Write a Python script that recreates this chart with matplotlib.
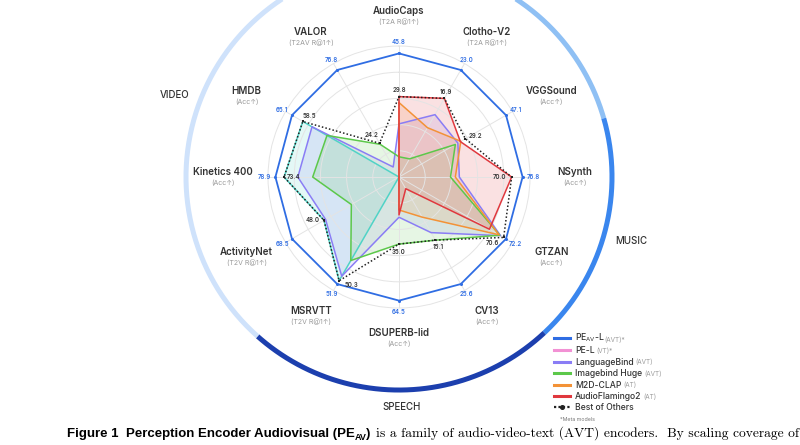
import numpy as np
import matplotlib.pyplot as plt
from matplotlib.lines import Line2D
from matplotlib.transforms import IdentityTransform

plt.rcParams['font.family'] = ['Inter', 'DejaVu Sans']
plt.rcParams['mathtext.fontset'] = 'custom'
plt.rcParams['mathtext.rm'] = 'Inter'

benchmarks = ['AudioCaps', 'Clotho-V2', 'VGGSound', 'NSynth', 'GTZAN', 'CV13',
              'DSUPERB-lid', 'MSRVTT', 'ActivityNet', 'Kinetics 400', 'HMDB', 'VALOR']
metrics = ['(T2A R@1↑)', '(T2A R@1↑)', '(Acc↑)', '(Acc↑)', '(Acc↑)', '(Acc↑)',
           '(Acc↑)', '(T2V R@1↑)', '(T2V R@1↑)', '(Acc↑)', '(Acc↑)', '(T2AV R@1↑)']

pe_av_l = [45.8, 23.0, 47.1, 76.8, 72.2, 25.6, 64.5, 51.9, 68.5, 78.9, 65.1, 76.8]
pe_l = [0, 0, 0, 0, 0, 0, 0, 50.3, 48.0, 73.4, 58.5, 0]
language_bind = [19.7, 13.4, 25.9, 37.5, 68.5, 13.3, 21.0, 48.1, 47.0, 64.6, 52.9, 7.2]
imagebind = [7.5, 3.9, 24.8, 32.0, 68.0, 15.1, 35.0, 40.5, 30.5, 55.1, 43.8, 23.5]
m2d_clap = [27.6, 10.6, 27.2, 35.0, 67.5, 9.6, 17.2, 0, 0, 0, 0, 0]
audio_flamingo2 = [29.8, 16.9, 27.0, 70.0, 61.0, 2.8, 19.8, 0, 0, 0, 0, 0]
best_of_others = [29.8, 16.9, 29.2, 70.0, 70.6, 15.1, 35.0, 50.3, 48.0, 73.4, 58.5, 24.2]

# category ring: name, start deg, end deg (clockwise from top)
groups = ['AUDIO', 'MUSIC', 'SPEECH', 'VIDEO']
group_span = [(-1.6, 74), (74, 137), (137, 221.6), (221.6, 358.4)]
group_colors = ['#8fc0f4', '#3a86ee', '#1c3fae', '#cfe2fb']
group_label_r = [1.8, 1.84, 1.755, 1.82]

# offsets (points) of the "best of others" value labels
best_offsets = [(0, 5), (1, 4.5), (7, 2), (-9, 0), (-8, -4), (2, -5),
                (0, -6), (9, -3), (-8, 0), (7, 0), (5, 4), (-6, 6)]

blue = '#2f6de3'
fig = plt.figure(figsize=(8, 4.45), dpi=100)
ax = fig.add_axes([0.335, 0.3078, 0.3275, 0.5888], projection='polar')
ax.set_theta_zero_location('N')
ax.set_theta_direction(-1)

n = len(benchmarks)
angles = np.arange(n) * 2 * np.pi / n
scale = np.array(pe_av_l) * 1.06


def closed(vals):
    r = np.array(vals) / scale
    return np.append(angles, angles[0]), np.append(r, r[0])


ax.set_ylim(0, 1)
ax.set_xticks(angles)
ax.set_xticklabels([])
ax.set_yticks([0.2, 0.4, 0.6, 0.8])
ax.set_yticklabels([])
ax.grid(color='#e4e4e4', lw=0.7)
ax.spines['polar'].set_color('#e4e4e4')
ax.spines['polar'].set_linewidth(0.7)

series = [(pe_l, '#4fd3c6'), (language_bind, '#8a7df5'), (imagebind, '#5cc84a'),
          (m2d_clap, '#f39237'), (audio_flamingo2, '#e0383e')]
for vals, c in series:
    t, r = closed(vals)
    ax.fill(t, r, color=c, alpha=0.15, lw=0)
for vals, c in series:
    t, r = closed(vals)
    ax.plot(t, r, color=c, lw=1.1)

t, r = closed(best_of_others)
ax.plot(t, r, color='#222222', lw=1.1, ls=(0, (1, 1.4)))
ax.plot(angles, np.array(best_of_others) / scale, ls='none', marker='s',
        ms=2.0, mew=0, color='#222222')
t, r = closed(pe_av_l)
ax.plot(t, r, color=blue, lw=1.3)
ax.plot(angles, np.array(pe_av_l) / scale, ls='none', marker='o', ms=2.2,
        mew=0, color=blue)

# value labels
for a, v, s in zip(angles, pe_av_l, scale):
    ax.annotate(f'{v:.1f}', (a, v / s),
                xytext=(8 * np.sin(a), 8 * np.cos(a)), textcoords='offset points',
                ha='center', va='center', fontsize=4.4, color=blue, weight='semibold')
for a, v, s, off in zip(angles, best_of_others, scale, best_offsets):
    ax.annotate(f'{v:.1f}', (a, v / s), xytext=off, textcoords='offset points',
                ha='center', va='center', fontsize=4.4, color='#333333', weight='semibold')

# benchmark names, laid out on an ellipse around the centre (px -> pt)
for a, name, m in zip(angles, benchmarks, metrics):
    ox, oy = 176 * 0.72 * np.sin(a), 161 * 0.72 * np.cos(a)
    ax.annotate(name, (0, 0), xytext=(ox, oy + 3.9), textcoords='offset points',
                ha='center', va='center', fontsize=7, color='#333333',
                weight='semibold', annotation_clip=False)
    ax.annotate(m, (0, 0), xytext=(ox, oy - 3.9), textcoords='offset points',
                ha='center', va='center', fontsize=5, color='#9a9a9a',
                annotation_clip=False)

# category ring
for g, (a0, a1), c, lr in zip(groups, group_span, group_colors, group_label_r):
    th = np.radians(np.linspace(a0, a1, 200))
    ax.plot(th, np.full_like(th, 1.626), color=c, lw=3.6, clip_on=False,
            solid_capstyle='butt')
    if g != 'AUDIO':
        mid = np.radians((a0 + a1) / 2)
        ax.text(mid, lr, g, ha='center', va='center', fontsize=7,
                color='#333333', weight='medium')

# legend
legend_labels = [r'PE$_{\mathrm{AV}}$-L', 'PE-L', 'LanguageBind', 'Imagebind Huge',
                 'M2D-CLAP', 'AudioFlamingo2', 'Best of Others']
legend_suffix = ['(AVT)*', '(VT)*', '(AVT)', '(AVT)', '(AT)', '(AT)', '']
legend_colors = [blue, '#f291d4', '#8a7df5', '#5cc84a', '#f39237', '#e0383e']
handles = [Line2D([], [], color=c, lw=2.2) for c in legend_colors]
handles.append(Line2D([], [], color='#222222', lw=1.6, ls=(0, (1, 1)),
                      marker='o', ms=2.6))
leg = fig.legend(handles, legend_labels, loc='upper left',
                 bbox_to_anchor=(0.692, 0.255), frameon=False, fontsize=6.2,
                 handlelength=1.9, handletextpad=0.6, labelspacing=0.28,
                 borderaxespad=0, borderpad=0)
for txt in leg.get_texts():
    txt.set_color('#333333')
    txt.set_weight('medium')

fig.canvas.draw()
renderer = fig.canvas.get_renderer()
for i, (txt, suf) in enumerate(zip(leg.get_texts(), legend_suffix)):
    if suf:
        bb = txt.get_window_extent(renderer)
        gap = -1 if i == 0 else 2
        fig.text(bb.x1 + gap, bb.y0 + 1.5, suf, transform=IdentityTransform(),
                 fontsize=4.6, color='#9a9a9a', va='bottom')
bb = leg.get_texts()[-1].get_window_extent(renderer)
fig.text(560, bb.y0 - 10, '*Meta models', transform=IdentityTransform(),
         fontsize=3.8, color='#777777', va='bottom')


# caption
def put(x, y, s, **kw):
    tx = fig.text(x, y, s, transform=IdentityTransform(), va='baseline', **kw)
    return tx.get_window_extent(renderer).x1


cap_y = 8
sans = ['Liberation Sans Narrow', 'Liberation Sans']
x = put(67, cap_y, 'Figure 1', family=sans, weight='bold', fontsize=9.5)
x = put(x + 7, cap_y, 'Perception Encoder Audiovisual (PE', family=sans,
        weight='bold', fontsize=9.5)
x = put(x, cap_y - 2.5, 'AV', family=sans, weight='bold', fontsize=6.5)
x = put(x, cap_y, ')', family=sans, weight='bold', fontsize=9.5)
rest = 'is a family of audio-video-text (AVT) encoders.  By scaling coverage of'
probe = fig.text(0, 0, rest, family='cmr10', fontsize=10)
w = probe.get_window_extent(renderer).width
probe.remove()
put(x + 5, cap_y, rest, family='cmr10', fontsize=10 * (797 - x - 5) / w)

fig.savefig('out.png', dpi=100)
